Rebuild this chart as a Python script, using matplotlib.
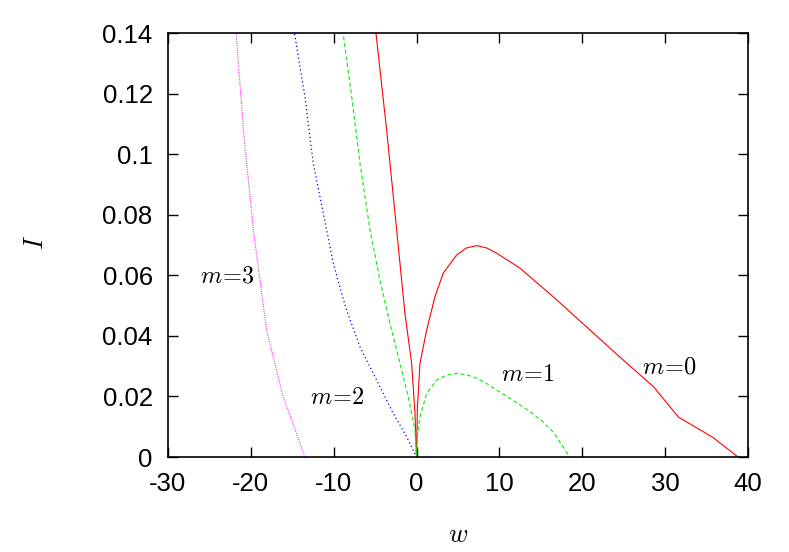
import numpy as np
import matplotlib.pyplot as plt

plt.rcParams['font.family'] = ['Liberation Sans', 'DejaVu Sans']
plt.rcParams['mathtext.fontset'] = 'cm'

# m=0 (red, solid), left and right branches
w0_left = [-4.94, -3.61, -2.4, -1.4, -0.59, -0.19, 0.0]
i0_left = [0.141, 0.108, 0.075, 0.0474, 0.0309, 0.0144, 0.0]
w0_right = [0.0, 0.1, 0.41, 1.22, 2.22, 3.22, 4.84, 6.0, 7.25, 8.5, 9.67,
            11.27, 12.5, 16.5, 20.5, 24.5, 28.6, 31.6, 35.8, 38.8]
i0_right = [0.0, 0.016, 0.0309, 0.0419, 0.0529, 0.0607, 0.0667, 0.0690,
            0.0698, 0.0690, 0.0673, 0.0645, 0.0623, 0.0529, 0.043, 0.0331,
            0.0232, 0.0132, 0.0064, 0.0]

# m=1 (green, dashed)
w1_left = [-8.92, -7.83, -6.83, -5.62, -4.42, -3.21, -2.0, -1.0, -0.19, 0.0]
i1_left = [0.141, 0.119, 0.097, 0.075, 0.0584, 0.0441, 0.0309, 0.0199,
           0.0089, 0.0]
w1_right = [0.0, 0.1, 0.41, 1.22, 2.43, 3.6, 4.84, 6.0, 7.25, 8.5, 9.67,
            11.27, 13.7, 15.2, 16.5, 18.5]
i1_right = [0.0, 0.007, 0.0133, 0.021, 0.0254, 0.0270, 0.0276, 0.0272,
            0.026, 0.0242, 0.0221, 0.0194, 0.015, 0.0117, 0.0082, 0.0]

# m=2 (blue, dotted)
w2 = [-14.8, -13.47, -12.47, -11.26, -10.05, -9.2, -8.44, -6.83, -4.82,
      -2.81, -1.2, 0.0]
i2 = [0.141, 0.119, 0.097, 0.0805, 0.064, 0.0555, 0.0485, 0.0364, 0.0254,
      0.0144, 0.0067, 0.0]

# m=3 (magenta, dotted)
w3 = [-21.8, -20.9, -19.7, -18.1, -16.1, -13.47]
i3 = [0.141, 0.108, 0.075, 0.0419, 0.0199, 0.0]

labels = ['$m\\!=\\!0$', '$m\\!=\\!1$', '$m\\!=\\!2$', '$m\\!=\\!3$']
label_w = [30.5, 13.4, -9.6, -22.8]
label_i = [0.0294, 0.027, 0.0195, 0.0595]

xticks = [-30, -20, -10, 0, 10, 20, 30, 40]
yticks = [0, 0.02, 0.04, 0.06, 0.08, 0.1, 0.12, 0.14]

fig = plt.figure(figsize=(7.89, 5.52), dpi=100)
ax = fig.add_axes([0.2129, 0.1721, 0.7351, 0.7681])

ax.plot(w0_left, i0_left, color='#ff0000', lw=0.8)
ax.plot(w0_right, i0_right, color='#ff0000', lw=0.8)
ax.plot(w1_left, i1_left, color='#00ee00', lw=0.8, dashes=(3.5, 2.5))
ax.plot(w1_right, i1_right, color='#00ee00', lw=0.8, dashes=(3.5, 2.5))
ax.plot(w2, i2, color='#0000ff', lw=0.9, dashes=(1, 2.2))
ax.plot(w3, i3, color='#ff00ff', lw=0.8, dashes=(0.8, 1.2))

for t, x, y in zip(labels, label_w, label_i):
    ax.text(x, y, t, fontsize=17.5, ha='center', va='center')

ax.set_xlim(-30, 40)
ax.set_ylim(0, 0.14)
ax.set_xticks(xticks)
ax.set_yticks(yticks)
ax.set_xticklabels([f'{v:g}' for v in xticks])
ax.set_yticklabels([f'{v:g}' for v in yticks])
ax.tick_params(direction='in', length=7, width=1, top=True, right=True,
               labelsize=18.5)
ax.tick_params(axis='x', pad=11)
ax.tick_params(axis='y', pad=11)
for s in ax.spines.values():
    s.set_linewidth(1.2)

ax.set_xlabel('$w$', fontsize=19, va='center')
ax.xaxis.set_label_coords(0.5, -0.184)
ax.set_ylabel('$I$', fontsize=19, va='center', ha='center')
ax.yaxis.set_label_coords(-0.2276, 0.507)

fig.savefig('out.png', dpi=100)
